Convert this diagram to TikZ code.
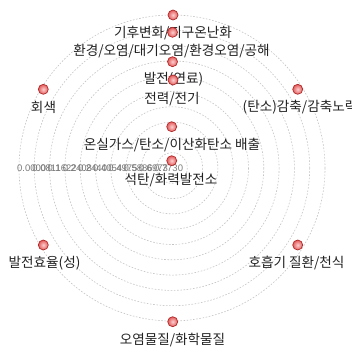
\documentclass[tikz,border=0pt]{standalone}
\usepackage{fontspec}
\setmainfont{Noto Sans CJK KR}
\newfontfamily\tickfont{Liberation Sans}
\definecolor{txt}{HTML}{222222}
\definecolor{ring}{HTML}{C4C4C4}
\definecolor{dotedge}{HTML}{B02A2A}
\definecolor{dotin}{HTML}{FBD0D0}
\definecolor{dotout}{HTML}{E45A5A}
\definecolor{tick}{HTML}{7A7A7A}
\begin{document}
\begin{tikzpicture}[x=1pt,y=-1pt,
  ringline/.style={draw=ring,line width=0.6pt,dash pattern=on 1.6pt off 1.6pt},
  dotnode/.style={circle,minimum size=10pt,inner sep=0pt,draw=dotedge,line width=0.7pt,inner color=dotin,outer color=dotout},
  lab/.style={font=\fontsize{13.6}{15}\selectfont,text=txt,inner sep=0pt},
  ticklab/.style={font=\tickfont\fontsize{9.5}{10}\selectfont,text=tick,inner sep=0pt,anchor=west}]
\useasboundingbox (0,0) rectangle (351,352);
\clip (0,0) rectangle (351,352);
\coordinate (c) at (172,168);
\foreach \k in {1,...,10}{
  \draw[ringline] (c) circle[radius=15.3*\k];
}
% tick labels
\foreach \v [count=\i from 0] in {0.0000,0.0811,0.1622,0.2408,0.2440,0.4054,0.4975,0.5886,0.6973,0.7730}{
  \node[ticklab] (t\i) at (17+15.2*\i,168) {\v};
}
% labels
\node[lab] (l1) at (173,33) {기후변화/지구온난화};
\node[lab] (l2) at (171.5,51.5) {환경/오염/대기오염/환경오염/공해};
\node[lab] (l3) at (173.5,79.5) {발전(연료)};
\node[lab] (l4) at (172,99) {전력/전기};
\node[lab] (l5) at (43.5,107) {회색};
\node[lab] (l6) at (300,107) {(탄소)감축/감축노력};
\node[lab] (l7) at (172,145) {온실가스/탄소/이산화탄소 배출};
\node[lab] (l8) at (171,180) {석탄/화력발전소};
\node[lab] (l9) at (44.5,263) {발전효율(성)};
\node[lab] (l10) at (296.5,263) {호흡기 질환/천식};
\node[lab] (l11) at (172.5,340) {오염물질/화학물질};
% dots
\node[dotnode] (d1) at (173,15) {};
\node[dotnode] (d2) at (172.5,32.3) {};
\node[dotnode] (d3) at (172.5,61.7) {};
\node[dotnode] (d4) at (173,80) {};
\node[dotnode] (d5) at (43.3,89.3) {};
\node[dotnode] (d6) at (297.7,89.3) {};
\node[dotnode] (d7) at (171.7,126.7) {};
\node[dotnode] (d8) at (171.7,160.7) {};
\node[dotnode] (d9) at (43.3,245) {};
\node[dotnode] (d10) at (297.7,245) {};
\node[dotnode] (d11) at (172.7,321.7) {};
\end{tikzpicture}
\end{document}
